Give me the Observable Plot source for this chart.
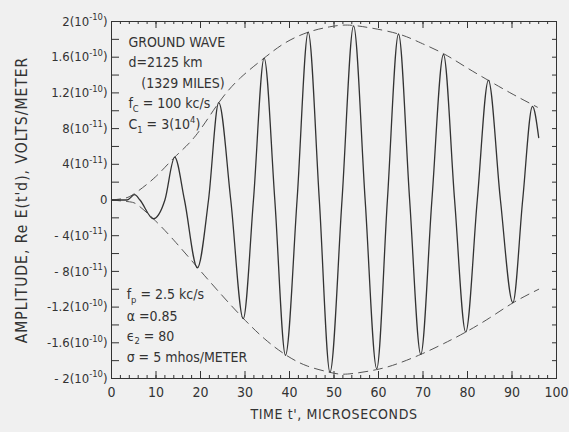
<!DOCTYPE html>
<html>
<head>
<meta charset="utf-8">
<script src="https://cdn.jsdelivr.net/npm/d3@7"></script>
<script src="https://cdn.jsdelivr.net/npm/@observablehq/plot@0.6"></script>
<style>
  html, body { margin: 0; padding: 0; background: #f0f0f0; }
  #chart { width: 569px; height: 432px; }
</style>
</head>
<body>
<div id="chart"></div>
<script>
// Values in units of 10^-10 volts/meter; time in microseconds
const waveT = [0, 3.5, 5.2, 6.4, 9.4, 12.0, 14.2, 16.4, 19.3, 21.8, 24.1, 26.8, 29.6, 31.9, 34.3, 36.7, 39.1, 41.7, 44.2, 46.7, 49.1, 51.8, 54.4, 57.0, 59.6, 62.0, 64.5, 67.0, 69.5, 72.0, 74.6, 77.1, 79.6, 82.2, 84.7, 87.4, 90.2, 92.4, 94.6, 96.0];
const waveV = [0, 0, 0.06, 0, -0.21, 0, 0.48, 0, -0.76, 0, 1.09, 0, -1.33, 0, 1.59, 0, -1.74, 0, 1.88, 0, -1.93, 0, 1.95, 0, -1.89, 0, 1.86, 0, -1.73, 0, 1.63, 0, -1.48, 0, 1.34, 0, -1.15, 0, 1.05, 0.70];

const upperT = [0, 3, 5.4, 9.9, 14.2, 18.9, 24.1, 29, 34.3, 39, 44.2, 49, 53, 58, 64.5, 69.5, 74.6, 79.6, 84.7, 90, 95.7];
const upperV = [0, 0.02, 0.08, 0.26, 0.48, 0.72, 1.09, 1.37, 1.59, 1.76, 1.88, 1.94, 1.96, 1.93, 1.86, 1.76, 1.64, 1.49, 1.34, 1.19, 1.04];

const lowerT = [0, 4, 6, 9.4, 14, 19.4, 24.5, 29.5, 34.5, 39.3, 44, 49, 53, 59.6, 64.5, 69.5, 74.6, 79.6, 85, 90.3, 96];
const lowerV = [0, -0.02, -0.06, -0.21, -0.45, -0.76, -1.05, -1.32, -1.56, -1.74, -1.86, -1.93, -1.95, -1.90, -1.83, -1.73, -1.61, -1.48, -1.32, -1.15, -1.0];

const xTickValues = [0, 10, 20, 30, 40, 50, 60, 70, 80, 90, 100];
const yTickValues = [2, 1.6, 1.2, 0.8, 0.4, 0, -0.4, -0.8, -1.2, -1.6, -2];
const yTickLabels = ["2(10^{-10})", "1.6(10^{-10})", "1.2(10^{-10})", "8(10^{-11})", "4(10^{-11})", "0",
                     "- 4(10^{-11})", "- 8(10^{-11})", "-1.2(10^{-10})", "-1.6(10^{-10})", "- 2(10^{-10})"];
const yMinorTicks = d3.range(-20, 21, 2).map(d => d / 10);
const xMinorTicks = d3.range(0, 101, 2);

const xLabel = "TIME t', MICROSECONDS";
const yLabel = "AMPLITUDE, Re E(t'd), VOLTS/METER";

const notesTop = ["GROUND WAVE", "d=2125 km", "(1329 MILES)", "f_{C} = 100 kc/s", "C_{1} = 3(10^{4})"];
const notesBottom = ["f_{p} = 2.5 kc/s", "\u03B1 =0.85", "\u03F5_{2} = 80", "\u03C3 = 5 mhos/METER"];

const wave = waveT.map((t, i) => ({t, v: waveV[i]}));
const upper = upperT.map((t, i) => ({t, v: upperV[i]}));
const lower = lowerT.map((t, i) => ({t, v: lowerV[i]}));

const W = 569, H = 432, mL = 111, mR = 13, mT = 21, mB = 54;
const pw = W - mL - mR, ph = H - mT - mB;
const ink = "#333";
const font = "'DejaVu Sans Condensed', 'DejaVu Sans', sans-serif";

const topPos = [[3.8, 1.76], [3.8, 1.535], [6.7, 1.31], [3.8, 1.076], [3.8, 0.85]];
const botPos = [[3.4, -1.064], [3.4, -1.30], [3.4, -1.524], [3.4, -1.76]];

const plot = Plot.plot({
  width: W, height: H,
  marginLeft: mL, marginRight: mR, marginTop: mT, marginBottom: mB,
  style: {background: "#f0f0f0", fontFamily: font, fontSize: "13px", color: ink},
  x: {domain: [0, 100]},
  y: {domain: [-2, 2]},
  marks: [
    Plot.frame({stroke: ink, strokeWidth: 1}),
    // inward ticks
    Plot.ruleY(yMinorTicks, {y: d => d, insetRight: pw - 8, stroke: ink}),
    Plot.ruleY(yMinorTicks, {y: d => d, insetLeft: pw - 4, stroke: ink}),
    Plot.ruleX(xMinorTicks, {x: d => d, insetTop: ph - 3, stroke: ink}),
    Plot.ruleX(xTickValues, {x: d => d, insetTop: ph - 7, stroke: ink}),
    Plot.ruleX(xMinorTicks, {x: d => d, insetBottom: ph - 3, stroke: ink}),
    Plot.ruleX(xTickValues, {x: d => d, insetBottom: ph - 7, stroke: ink}),
    Plot.axisX({ticks: xTickValues, tickFormat: d => String(d), tickSize: 0, tickPadding: 9,
      label: xLabel, labelAnchor: "center", labelArrow: "none", labelOffset: 40, fontSize: 14}),
    Plot.axisY({ticks: yTickValues, tickFormat: d => yTickLabels[yTickValues.indexOf(d)], tickSize: 0, tickPadding: 4,
      label: yLabel, labelAnchor: "center", labelArrow: "none", labelOffset: 96, fontSize: 13}),
    Plot.line(upper, {x: "t", y: "v", curve: "natural", stroke: "#555", strokeWidth: 1, strokeDasharray: "9,6"}),
    Plot.line(lower, {x: "t", y: "v", curve: "natural", stroke: "#555", strokeWidth: 1, strokeDasharray: "9,6"}),
    Plot.line(wave, {x: "t", y: "v", curve: "monotone-x", stroke: ink, strokeWidth: 1.3}),
    Plot.text(notesTop, {x: (d, i) => topPos[i][0], y: (d, i) => topPos[i][1], text: d => d,
      textAnchor: "start", fontSize: 14, fill: ink}),
    Plot.text(notesBottom, {x: (d, i) => botPos[i][0], y: (d, i) => botPos[i][1], text: d => d,
      textAnchor: "start", fontSize: 14, fill: ink})
  ]
});

// enlarge the y-axis title
d3.select(plot).selectAll("text").filter(function() { return this.textContent === yLabel; })
  .attr("font-size", 15.5).style("letter-spacing", "1px");
d3.select(plot).selectAll("text").filter(function() { return this.textContent === xLabel; })
  .style("letter-spacing", "0.6px");

// turn ^{..} and _{..} into super/subscript tspans
d3.select(plot).selectAll("text").each(function() {
  const s = this.textContent;
  if (!/[_^]\{/.test(s)) return;
  const fs = parseFloat(getComputedStyle(this).fontSize) || 13;
  this.textContent = "";
  const re = /([_^])\{([^}]*)\}|([^_^]+)/g;
  let m, shift = 0;
  const sel = d3.select(this);
  while ((m = re.exec(s))) {
    if (m[3] !== undefined) {
      sel.append("tspan").attr("dy", -shift).text(m[3]);
      shift = 0;
    } else {
      const off = m[1] === "^" ? -0.42 * fs : 0.3 * fs;
      sel.append("tspan").attr("dy", off - shift).attr("font-size", 0.72 * fs).text(m[2]);
      shift = off;
    }
  }
  if (shift) sel.append("tspan").attr("dy", -shift).text("\u200B");
});

document.getElementById("chart").appendChild(plot);
</script>
</body>
</html>
